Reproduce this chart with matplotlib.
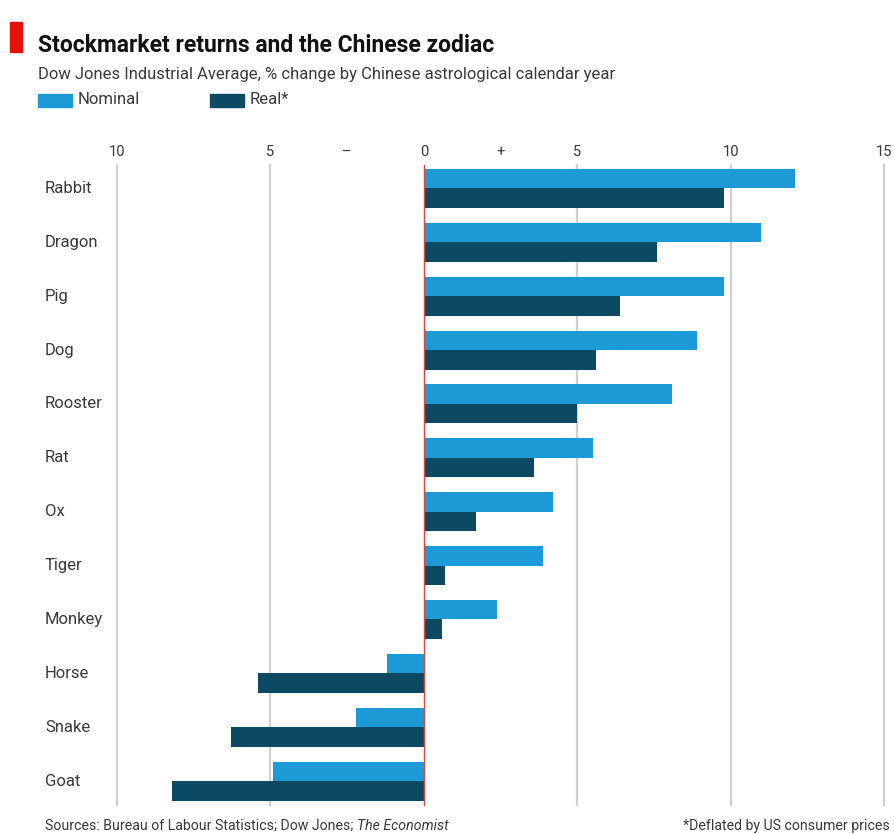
import matplotlib
matplotlib.use("Agg")
import matplotlib.pyplot as plt
from matplotlib.patches import Rectangle
from matplotlib.transforms import blended_transform_factory
import numpy as np

plt.rcParams['font.family'] = ['Roboto', 'DejaVu Sans']

# zodiac years, sorted by nominal return
signs = ['Rabbit', 'Dragon', 'Pig', 'Dog', 'Rooster', 'Rat', 'Ox',
         'Tiger', 'Monkey', 'Horse', 'Snake', 'Goat']
nominal = [12.1, 11.0, 9.8, 8.9, 8.1, 5.5, 4.2, 3.9, 2.4, -1.2, -2.2, -4.9]
real = [9.8, 7.6, 6.4, 5.6, 5.0, 3.6, 1.7, 0.7, 0.6, -5.4, -6.3, -8.2]

tick_pos = [-10, -5, -2.5, 0, 2.5, 5, 10, 15]
tick_txt = ['10', '5', '–', '0', '+', '5', '10', '15']

c_nom = '#1b9ad6'
c_real = '#0c4a64'
c_text = '#3a3a3a'

W, H = 894, 834
fig = plt.figure(figsize=(W / 100, H / 100), dpi=100, facecolor='white')

# plot area: x -10..15 between px 117 and 884, gridlines from y 165 to 805
ax = fig.add_axes([117 / W, 1 - 805 / H, (884 - 117) / W, (805 - 165) / H])
ax.set_xlim(-10, 15)
ax.set_ylim(11.445, -0.436)

y = np.arange(len(signs))
bh = 0.362
ax.barh(y - bh / 2, nominal, height=bh, color=c_nom, zorder=3)
ax.barh(y + bh / 2, real, height=bh, color=c_real, zorder=3)

# vertical gridlines + red zero line
for v in [-10, -5, 5, 10, 15]:
    ax.axvline(v, color='#cfcfcf', lw=1.6, zorder=1, clip_on=False)
ax.axvline(0, color='#e0443c', lw=1.0, zorder=4, clip_on=False)

for s in ax.spines.values():
    s.set_visible(False)
ax.xaxis.tick_top()
ax.set_xticks(tick_pos)
ax.set_xticklabels(tick_txt, fontsize=10.5, color=c_text)
ax.tick_params(axis='x', length=0, pad=4)
ax.set_yticks([])

# category names, left aligned at the page margin
tr = blended_transform_factory(fig.transFigure, ax.transData)
for yi, name in zip(y, signs):
    ax.text(45 / W, yi, name, transform=tr, ha='left', va='center',
            fontsize=12, color=c_text)

# header
fig.patches.append(Rectangle((10 / W, 1 - 52 / H), 12 / W, 30 / H,
                             transform=fig.transFigure, color='#e3120b'))
fig.text(38 / W, 1 - 45 / H, 'Stockmarket returns and the Chinese zodiac',
         fontsize=16.5, fontweight='bold', color='#111111', va='center')
fig.text(38 / W, 1 - 75 / H,
         'Dow Jones Industrial Average, % change by Chinese astrological calendar year',
         fontsize=12, color=c_text, va='center')

# legend
fig.patches.append(Rectangle((38 / W, 1 - 107 / H), 34 / W, 13 / H,
                             transform=fig.transFigure, color=c_nom))
fig.text(78 / W, 1 - 100 / H, 'Nominal', fontsize=12, color=c_text, va='center')
fig.patches.append(Rectangle((210 / W, 1 - 107 / H), 34 / W, 13 / H,
                             transform=fig.transFigure, color=c_real))
fig.text(250 / W, 1 - 100 / H, 'Real*', fontsize=12, color=c_text, va='center')

# footer, with the italic publication name placed after the sources text
src = fig.text(45 / W, 1 - 826 / H,
               'Sources: Bureau of Labour Statistics; Dow Jones; ',
               fontsize=10.2, color=c_text, va='center')
fig.add_artist(plt.Annotation('The Economist', xy=(1, 0.5), xycoords=src,
                              va='center', ha='left', fontsize=10.2,
                              color=c_text, style='italic'))
fig.text(890 / W, 1 - 826 / H, '*Deflated by US consumer prices',
         fontsize=10.2, color=c_text, va='center', ha='right')

fig.savefig('out.png', dpi=100, facecolor='white')
